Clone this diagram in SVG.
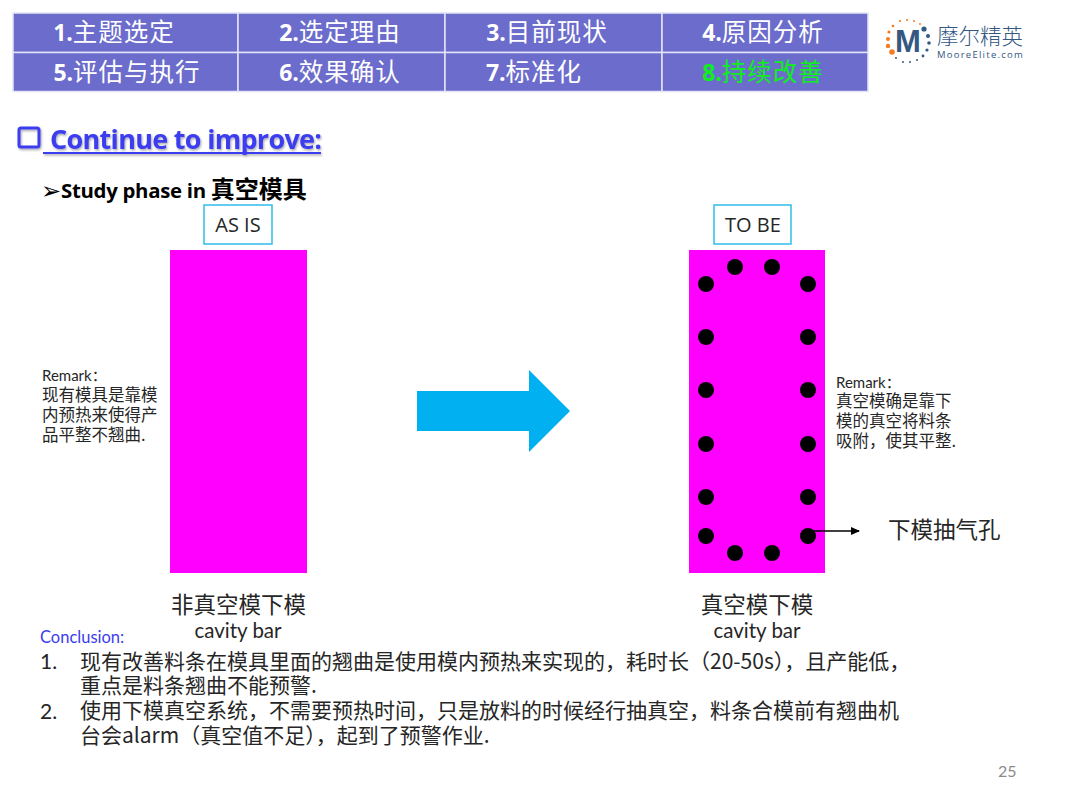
<svg xmlns="http://www.w3.org/2000/svg" width="1080" height="810" viewBox="0 0 1080 810">
<style>
text{font-family:"Lato","Noto Sans CJK SC",sans-serif;fill:#262626}
.cjk{font-family:"Noto Sans CJK SC",sans-serif}
.hd{font-size:24.500px;fill:#fff;text-anchor:middle;font-family:"Noto Sans CJK SC",sans-serif;font-weight:400;letter-spacing:1px}
.hd tspan{font-family:"Open Sans",sans-serif;font-weight:700;font-size:23px;letter-spacing:0}
.cell{fill:#6c6ccc;stroke:#e4e4f8;stroke-width:1.5}
.rem{font-size:15px}
.remc{font-size:16.500px}
.con{font-size:21px}
.lab{font-size:20.500px;text-anchor:middle}
.big{font-size:22.500px;text-anchor:middle;font-family:"Noto Sans CJK SC",sans-serif}
.tag{fill:#fff;stroke:#2fbdea;stroke-width:1.500}
.bar{fill:#ff00ff}
.hole{fill:#000}
.d1{fill:#f47b20}.d2{fill:#34587f}
</style>
<defs>
<marker id="ah" markerWidth="9" markerHeight="9" refX="8" refY="4" orient="auto" markerUnits="userSpaceOnUse"><path d="M0 0L9 4L0 8Z" fill="#000"/></marker>
<filter id="sh" x="-5%" y="-20%" width="110%" height="140%"><feDropShadow dx="1" dy="1.500" stdDeviation="0.800" flood-color="#000" flood-opacity="0.350"/></filter>
</defs>
<rect width="1080" height="810" fill="#fff"/>
<g id="header">
<rect class="cell" x="13" y="13" width="225" height="39.500"/><rect class="cell" x="238" y="13" width="207" height="39.500"/><rect class="cell" x="445" y="13" width="217" height="39.500"/><rect class="cell" x="662" y="13" width="206" height="39.500"/>
<rect class="cell" x="13" y="52.500" width="225" height="39"/><rect class="cell" x="238" y="52.500" width="207" height="39"/><rect class="cell" x="445" y="52.500" width="217" height="39"/><rect class="cell" x="662" y="52.500" width="206" height="39"/>
<text class="hd" x="114" y="41"><tspan>1.</tspan>主题选定</text>
<text class="hd" x="340" y="41"><tspan>2.</tspan>选定理由</text>
<text class="hd" x="547" y="41"><tspan>3.</tspan>目前现状</text>
<text class="hd" x="763" y="41"><tspan>4.</tspan>原因分析</text>
<text class="hd" x="127" y="81"><tspan>5.</tspan>评估与执行</text>
<text class="hd" x="340" y="81"><tspan>6.</tspan>效果确认</text>
<text class="hd" x="534" y="81"><tspan>7.</tspan>标准化</text>
<text class="hd" x="763" y="81" style="fill:#0df01a"><tspan>8.</tspan>持续改善</text>
</g>
<g id="logo">
<circle class="d1" cx="892" cy="52" r="2.800"/><circle class="d1" cx="888" cy="46" r="2.200"/><circle class="d1" cx="888" cy="39" r="2"/><circle class="d1" cx="889" cy="32" r="1.600"/><circle class="d1" cx="893" cy="26" r="1.300"/><circle class="d1" cx="900" cy="21" r="1.100"/><circle class="d1" cx="907" cy="20" r="1"/><circle class="d1" cx="914" cy="21" r="1"/><circle class="d1" cx="920" cy="24" r="1"/>
<circle class="d2" cx="924" cy="29" r="2.600"/><circle class="d2" cx="928" cy="36" r="2"/><circle class="d2" cx="929" cy="43" r="1.800"/><circle class="d2" cx="927" cy="50" r="1.600"/><circle class="d2" cx="923" cy="56" r="1.400"/><circle class="d2" cx="917" cy="60" r="1"/><circle class="d2" cx="910" cy="62" r="1"/><circle class="d2" cx="903" cy="62" r="1"/><circle class="d2" cx="896" cy="58" r="1"/>
<text x="908" y="52" style="font-family:'Liberation Sans',sans-serif;font-size:31px;font-weight:700;fill:#34587f;text-anchor:middle">M</text>
<text x="937" y="44" style="font-family:'Noto Sans CJK SC',sans-serif;font-size:21.500px;font-weight:300;fill:#34587f">摩尔精英</text>
<text x="937" y="58" style="font-family:'Open Sans',sans-serif;font-size:9.500px;letter-spacing:1.250px;fill:#34587f">MooreElite.com</text>
</g>
<g id="title">
<g filter="url(#sh)">
<rect x="19" y="128" width="20" height="19" rx="2" fill="none" stroke="#3c3cf0" stroke-width="3"/>
<text x="50" y="149" style="font-size:27px;font-weight:700;fill:#3c3cf0;font-family:'Open Sans',sans-serif;letter-spacing:-.7px">Continue to improve:</text>
<rect x="43" y="152" width="278" height="2" fill="#3c3cf0"/>
</g>
<text x="41" y="199" style="font-size:24px;fill:#000;font-family:'DejaVu Sans',sans-serif">➢</text>
<text x="61" y="198" style="font-size:20.400px;font-weight:700;fill:#000;font-family:'Open Sans',sans-serif;letter-spacing:-.3px">Study phase in <tspan style="font-family:'Noto Sans CJK SC',sans-serif;font-size:24px;letter-spacing:0">真空模具</tspan></text>
</g>
<g id="as-is">
<rect class="tag" x="204" y="205" width="68" height="39"/>
<text x="238" y="232" style="font-size:20px;text-anchor:middle;font-family:'Open Sans',sans-serif">AS IS</text>
<rect class="bar" x="170" y="250" width="137" height="323"/>
<text class="rem" x="42" y="381">Remark<tspan class="cjk">：</tspan></text>
<text class="remc cjk" x="42" y="401">现有模具是靠模</text>
<text class="remc cjk" x="42" y="421">内预热来使得产</text>
<text class="remc cjk" x="42" y="441">品平整不翘曲.</text>
<text class="big" x="238.500" y="613">非真空模下模</text>
<text class="lab" x="238" y="638">cavity bar</text>
</g>
<g id="arrow"><path d="M417 391H529V370L570 411L529 452V431H417Z" fill="#00b0f0"/></g>
<g id="to-be">
<rect class="tag" x="714" y="205" width="77" height="39"/>
<text x="753" y="232" style="font-size:20px;text-anchor:middle;font-family:'Open Sans',sans-serif">TO BE</text>
<rect class="bar" x="689" y="250" width="136" height="323"/>
<circle class="hole" cx="735" cy="267" r="8"/><circle class="hole" cx="772" cy="267" r="8"/>
<circle class="hole" cx="706" cy="284" r="8"/><circle class="hole" cx="808" cy="284" r="8"/>
<circle class="hole" cx="706" cy="337" r="8"/><circle class="hole" cx="808" cy="337" r="8"/>
<circle class="hole" cx="706" cy="390" r="8"/><circle class="hole" cx="808" cy="390" r="8"/>
<circle class="hole" cx="706" cy="444" r="8"/><circle class="hole" cx="808" cy="444" r="8"/>
<circle class="hole" cx="706" cy="497" r="8"/><circle class="hole" cx="808" cy="497" r="8"/>
<circle class="hole" cx="706" cy="536" r="8"/><circle class="hole" cx="808" cy="536" r="8"/>
<circle class="hole" cx="735" cy="553" r="8"/><circle class="hole" cx="772" cy="553" r="8"/>
<text class="rem" x="836" y="388">Remark<tspan class="cjk">：</tspan></text>
<text class="remc cjk" x="836" y="407">真空模确是靠下</text>
<text class="remc cjk" x="836" y="427">模的真空将料条</text>
<text class="remc cjk" x="836" y="447">吸附，使其平整.</text>
<text class="big" x="757" y="613">真空模下模</text>
<text class="lab" x="757" y="638">cavity bar</text>
<text x="888" y="538" style="font-size:22.500px;font-family:'Noto Sans CJK SC',sans-serif">下模抽气孔</text>
</g>
<g id="connectors"><line x1="808" y1="531" x2="859" y2="531" stroke="#000" stroke-width="1.300" marker-end="url(#ah)"/></g>
<g id="conclusion">
<text x="40" y="643" style="font-size:16.500px;fill:#3c3cf0">Conclusion:</text>
<text class="con" x="40" y="669">1.</text>
<text class="con cjk" x="80" y="669">现有改善料条在模具里面的翘曲是使用模内预热来实现的，耗时长（20-50s），且产能低，</text>
<text class="con cjk" x="80" y="693">重点是料条翘曲不能预警.</text>
<text class="con" x="40" y="719">2.</text>
<text class="con cjk" x="80" y="718">使用下模真空系统，不需要预热时间，只是放料的时候经行抽真空，料条合模前有翘曲机</text>
<text class="con cjk" x="80" y="743">台会alarm（真空值不足），起到了预警作业.</text>
</g>
<text x="998" y="777" style="font-size:16px;fill:#8a8a8a">25</text>
</svg>
